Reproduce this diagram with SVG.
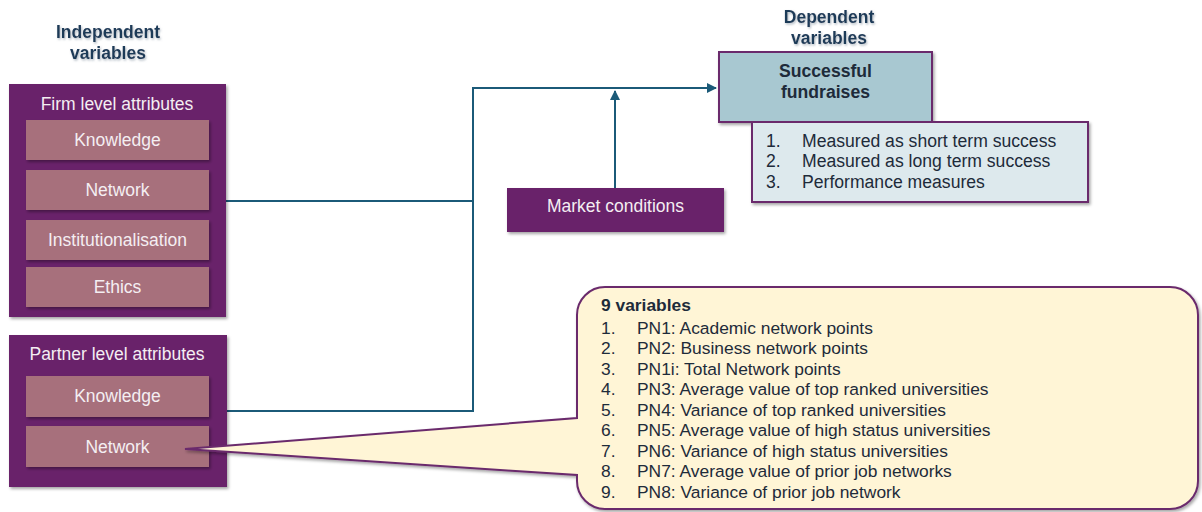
<svg xmlns="http://www.w3.org/2000/svg" width="1202" height="512" viewBox="0 0 1202 512">
  <defs>
    <filter id="shadow" x="-10%" y="-10%" width="125%" height="130%">
      <feDropShadow dx="1.5" dy="2" stdDeviation="1.5" flood-color="#000" flood-opacity="0.35"/>
    </filter>
    <filter id="textShadow" x="-10%" y="-20%" width="120%" height="150%">
      <feDropShadow dx="1" dy="1.5" stdDeviation="1" flood-color="#7a8a99" flood-opacity="0.6"/>
    </filter>
    <marker id="arrow" viewBox="0 0 10 10" refX="9" refY="5" markerWidth="5" markerHeight="5" orient="auto" markerUnits="strokeWidth">
      <path d="M0,0 L10,5 L0,10 Z" fill="#1b5a78"/>
    </marker>
    <style>
      text { font-family: "Liberation Sans", Arial, sans-serif; }
      .heading { font-size: 17.5px; font-weight: bold; fill: #1f3a58; text-anchor: middle; }
      .outer { fill: #69206b; filter: url(#shadow); }
      .inner { fill: #a7707c; filter: url(#shadow); }
      .lbl { font-size: 17.5px; fill: #f4eef2; text-anchor: middle; }
      .conn { fill: none; stroke: #1b5a78; stroke-width: 2; }
      .dep { fill: #a8c8d1; stroke: #6a2a6c; stroke-width: 2; filter: url(#shadow); }
      .deplist { fill: #dde9ed; stroke: #6a2a6c; stroke-width: 2; filter: url(#shadow); }
      .dark { fill: #1e2b3a; font-size: 17.6px; }
      .bold { font-weight: bold; }
      .call { fill: #fff5d6; stroke: #6a2a6c; stroke-width: 2; filter: url(#shadow); }
      .ct { fill: #1e2b3a; font-size: 17.4px; }
    </style>
  </defs>

  <rect width="1202" height="512" fill="#ffffff"/>

  <!-- column headings -->
  <g id="heading-independent" filter="url(#textShadow)">
    <text class="heading" x="108" y="38">Independent</text>
    <text class="heading" x="108" y="59">variables</text>
  </g>
  <g id="heading-dependent" filter="url(#textShadow)">
    <text class="heading" x="829" y="23">Dependent</text>
    <text class="heading" x="829" y="44">variables</text>
  </g>

  <!-- connectors -->
  <g id="connectors">
    <path class="conn" d="M226,201 H473"/>
    <path class="conn" d="M227,411 H473 V88 H716" marker-end="url(#arrow)"/>
    <path class="conn" d="M615,188 V91" marker-end="url(#arrow)"/>
  </g>

  <!-- firm level attributes -->
  <g id="firm-level">
    <rect class="outer" x="9" y="84" width="217" height="233"/>
    <text class="lbl" x="117" y="110">Firm level attributes</text>
    <g id="firm-knowledge">
      <rect class="inner" x="26" y="120" width="183" height="40"/>
      <text class="lbl" x="117.5" y="146">Knowledge</text>
    </g>
    <g id="firm-network">
      <rect class="inner" x="26" y="170" width="183" height="40"/>
      <text class="lbl" x="117.5" y="196">Network</text>
    </g>
    <g id="firm-institutionalisation">
      <rect class="inner" x="26" y="220" width="183" height="40"/>
      <text class="lbl" x="117.5" y="246">Institutionalisation</text>
    </g>
    <g id="firm-ethics">
      <rect class="inner" x="26" y="267" width="183" height="40"/>
      <text class="lbl" x="117.5" y="293">Ethics</text>
    </g>
  </g>

  <!-- partner level attributes -->
  <g id="partner-level">
    <rect class="outer" x="9" y="335" width="218" height="152"/>
    <text class="lbl" x="117" y="360">Partner level attributes</text>
    <g id="partner-knowledge">
      <rect class="inner" x="26" y="376" width="183" height="41"/>
      <text class="lbl" x="117.5" y="402">Knowledge</text>
    </g>
    <g id="partner-network">
      <rect class="inner" x="26" y="426" width="183" height="41"/>
      <text class="lbl" x="117.5" y="453">Network</text>
    </g>
  </g>

  <!-- market conditions -->
  <g id="market-conditions">
    <rect class="outer" x="507" y="188" width="217" height="44"/>
    <text class="lbl" x="615.5" y="212">Market conditions</text>
  </g>

  <!-- dependent variable -->
  <g id="successful-fundraises">
    <rect class="dep" x="719" y="52" width="213" height="70"/>
    <text class="dark bold" font-size="17.5" x="825.5" y="77" text-anchor="middle">Successful</text>
    <text class="dark bold" font-size="17.5" x="825.5" y="98" text-anchor="middle">fundraises</text>
  </g>
  <g id="success-measures">
    <rect class="deplist" x="752" y="122" width="336" height="80"/>
    <text class="dark" x="766" y="147">1.</text>
    <text class="dark" x="802" y="147">Measured as short term success</text>
    <text class="dark" x="766" y="167">2.</text>
    <text class="dark" x="802" y="167">Measured as long term success</text>
    <text class="dark" x="766" y="188">3.</text>
    <text class="dark" x="802" y="188">Performance measures</text>
  </g>

  <!-- callout detailing the partner network variables -->
  <g id="network-variables">
    <path class="call" d="M605,287 H1170 A28,28 0 0 1 1198,315 V481 A28,28 0 0 1 1170,509 H605 A28,28 0 0 1 577,481 V475 L185,449 L577,418 V315 A28,28 0 0 1 605,287 Z"/>
    <text class="ct bold" x="601" y="311">9 variables</text>
    <text class="ct" x="601" y="333.5">1.</text>
    <text class="ct" x="637" y="333.5">PN1: Academic network points</text>
    <text class="ct" x="601" y="354">2.</text>
    <text class="ct" x="637" y="354">PN2: Business network points</text>
    <text class="ct" x="601" y="374.5">3.</text>
    <text class="ct" x="637" y="374.5">PN1i: Total Network points</text>
    <text class="ct" x="601" y="395">4.</text>
    <text class="ct" x="637" y="395">PN3: Average value of top ranked universities</text>
    <text class="ct" x="601" y="415.5">5.</text>
    <text class="ct" x="637" y="415.5">PN4: Variance of top ranked universities</text>
    <text class="ct" x="601" y="436">6.</text>
    <text class="ct" x="637" y="436">PN5: Average value of high status universities</text>
    <text class="ct" x="601" y="456.5">7.</text>
    <text class="ct" x="637" y="456.5">PN6: Variance of high status universities</text>
    <text class="ct" x="601" y="477">8.</text>
    <text class="ct" x="637" y="477">PN7: Average value of prior job networks</text>
    <text class="ct" x="601" y="497.5">9.</text>
    <text class="ct" x="637" y="497.5">PN8: Variance of prior job network</text>
  </g>
</svg>
